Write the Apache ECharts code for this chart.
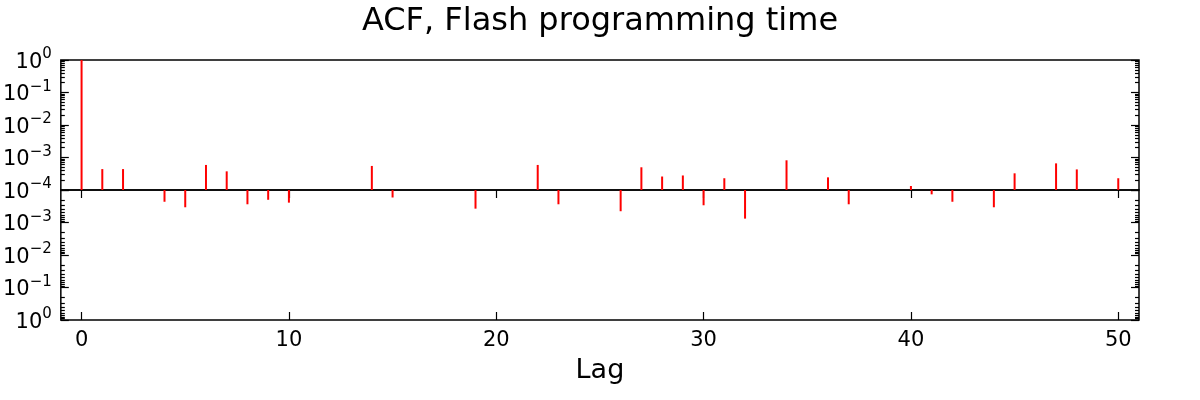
<!DOCTYPE html>
<html>
<head>
<meta charset="utf-8">
<script src="https://cdn.jsdelivr.net/npm/echarts@6/dist/echarts.min.js"></script>
<style>
  html, body { margin: 0; padding: 0; background: #fff; }
  #chart { width: 1200px; height: 400px; }
</style>
</head>
<body>
<div id="chart"></div>
<script>
// lag 0..50, ACF values (null = below 1e-4, not drawn)
const lags = [0, 1, 2, 3, 4, 5, 6, 7, 8, 9, 10, 11, 12, 13, 14, 15, 16, 17, 18, 19, 20,
  21, 22, 23, 24, 25, 26, 27, 28, 29, 30, 31, 32, 33, 34, 35, 36, 37, 38, 39, 40,
  41, 42, 43, 44, 45, 46, 47, 48, 49, 50];
const acf = [1, 4.4e-4, 4.4e-4, null, -2.3e-4, -3.4e-4, 5.9e-4, 3.75e-4, -2.75e-4, -2.0e-4, -2.45e-4,
  null, null, null, 5.5e-4, -1.7e-4, null, null, null, -3.75e-4, null,
  null, 5.9e-4, -2.75e-4, null, null, -4.5e-4, 5.0e-4, 2.6e-4, 2.8e-4, -2.95e-4,
  2.3e-4, -7.6e-4, null, 8.2e-4, null, 2.45e-4, -2.75e-4, null, null, 1.33e-4,
  -1.36e-4, -2.3e-4, null, -3.4e-4, 3.26e-4, null, 6.6e-4, 4.3e-4, null, 2.3e-4];
const xTicks = [0, 10, 20, 30, 40, 50];
const yTicks = [1e-4, 1e-3, 1e-2, 1e-1, 1];
const floorValue = 1e-4;

// minor ticks 2..9 in every decade
let minorTicks = [];
for (let d = -4; d < 0; d++) {
  for (let k = 2; k <= 9; k++) minorTicks.push(k * Math.pow(10, d));
}

const posData = [], negData = [];
lags.forEach(function (l, i) {
  const v = acf[i];
  if (v == null) return;
  if (v > floorValue) posData.push([l, v]);
  if (v < -floorValue) negData.push([l, -v]);
});

const font = 'DejaVu Sans';
const black = '#000';
const noLine = { show: false, onZero: false };

function supLabel(v) {
  const e = Math.round(Math.log10(v));
  return '{b|10}{s|' + (e < 0 ? '\u2212' + (-e) : e) + '}';
}
// bottom panel shares the 1e-4 line with the top one, so no label there
function supLabelBottom(v) {
  if (Math.round(Math.log10(v)) === -4) return '';
  return supLabel(v);
}

// kind: 'label' (labels only), 'major' or 'minor' (ticks only)
function yAxis(grid, side, inverse, kind, labelFn) {
  const ticks = kind !== 'label';
  return {
    gridIndex: grid, type: 'log', logBase: 10, min: 1e-4, max: 1, inverse: inverse,
    position: side,
    axisLine: noLine,
    splitLine: { show: false },
    axisTick: ticks ? {
      show: true, inside: true, length: kind === 'minor' ? 4 : 8,
      customValues: kind === 'minor' ? minorTicks : yTicks,
      lineStyle: { color: black, width: 1.2 }
    } : { show: false },
    axisLabel: ticks ? { show: false } : {
      show: true, customValues: yTicks, margin: 9, formatter: labelFn,
      fontFamily: font, color: black,
      rich: {
        b: { fontSize: 21, fontFamily: font, color: black, lineHeight: 26, verticalAlign: 'bottom' },
        s: { fontSize: 15, fontFamily: font, color: black, lineHeight: 26, verticalAlign: 'top', padding: [0, 0, 8, 0] }
      }
    }
  };
}

function stem(params, api) {
  const x = api.value(0);
  const p0 = api.coord([x, floorValue]);
  const p1 = api.coord([x, api.value(1)]);
  return {
    type: 'line',
    shape: { x1: p0[0], y1: p0[1], x2: p1[0], y2: p1[1] },
    style: { stroke: '#ff0000', lineWidth: 2 }
  };
}

let chart = echarts.init(document.getElementById('chart'), null, { renderer: 'canvas' });
let option = {
  animation: false,
  backgroundColor: '#fff',
  title: {
    text: 'ACF, Flash programming time', left: 'center', top: 1,
    textStyle: { fontFamily: font, fontSize: 32, fontWeight: 'normal', color: black }
  },
  grid: [
    { left: 60, right: 61, top: 60, height: 130, show: true, borderColor: black, borderWidth: 1.5 },
    { left: 60, right: 61, top: 190, height: 130, show: true, borderColor: black, borderWidth: 1.5 }
  ],
  xAxis: [
    { gridIndex: 0, type: 'value', min: -1, max: 51, axisLine: noLine, axisTick: { show: false },
      axisLabel: { show: false }, splitLine: { show: false } },
    { gridIndex: 1, type: 'value', min: -1, max: 51, position: 'bottom',
      axisLine: noLine, splitLine: { show: false },
      axisTick: { show: true, inside: true, length: 8, customValues: xTicks, lineStyle: { color: black, width: 1.2 } },
      axisLabel: { show: true, customValues: xTicks, margin: 10, fontFamily: font, fontSize: 21, color: black },
      name: 'Lag', nameLocation: 'middle', nameGap: 37,
      nameTextStyle: { fontFamily: font, fontSize: 27, color: black } },
    { gridIndex: 1, type: 'value', min: -1, max: 51, position: 'top',
      axisLine: noLine, splitLine: { show: false },
      axisTick: { show: true, inside: true, length: 8, customValues: xTicks, lineStyle: { color: black, width: 1.2 } },
      axisLabel: { show: false } }
  ],
  yAxis: [
    yAxis(0, 'left', false, 'label', supLabel),
    yAxis(0, 'left', false, 'major'),
    yAxis(0, 'right', false, 'major'),
    yAxis(0, 'left', false, 'minor'),
    yAxis(0, 'right', false, 'minor'),
    yAxis(1, 'left', true, 'label', supLabelBottom),
    yAxis(1, 'left', true, 'major'),
    yAxis(1, 'right', true, 'major'),
    yAxis(1, 'left', true, 'minor'),
    yAxis(1, 'right', true, 'minor')
  ],
  series: [
    { type: 'custom', xAxisIndex: 0, yAxisIndex: 0, renderItem: stem, data: posData, clip: true },
    { type: 'custom', xAxisIndex: 1, yAxisIndex: 5, renderItem: stem, data: negData, clip: true }
  ]
};
chart.setOption(option);
</script>
</body>
</html>
